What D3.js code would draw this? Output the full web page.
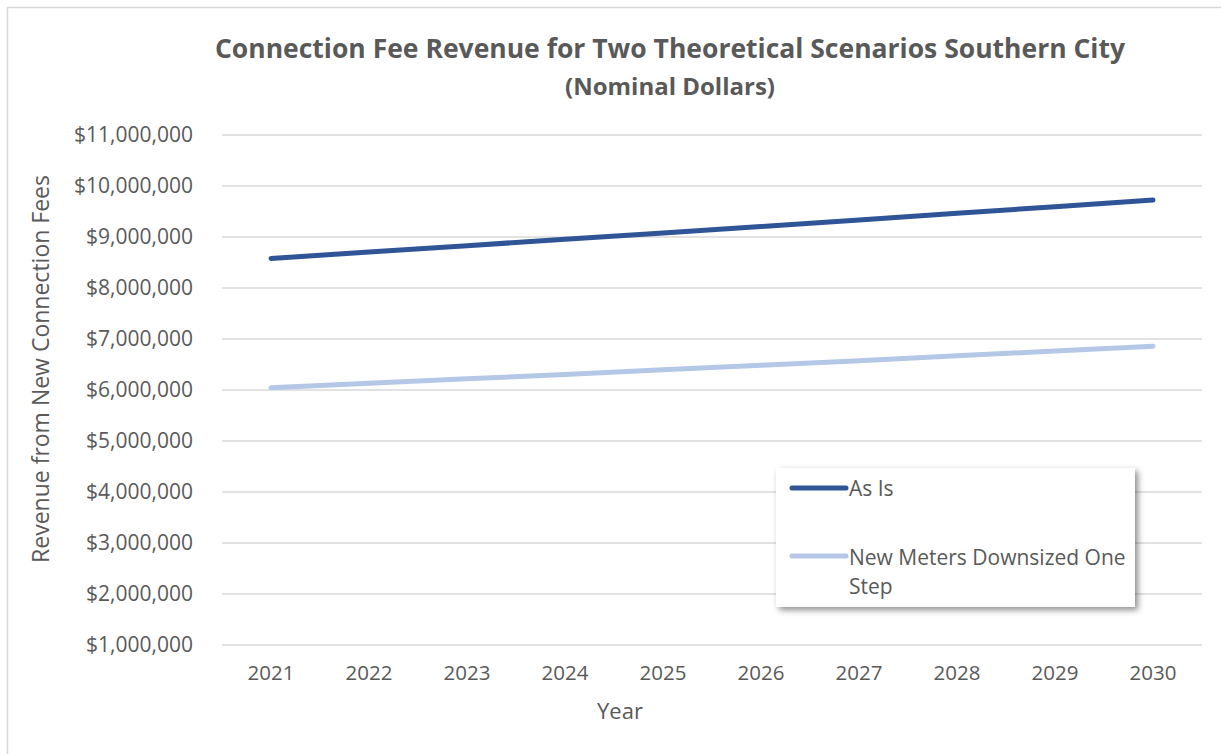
<!DOCTYPE html>
<html>
<head>
<meta charset="utf-8">
<script src="https://cdn.jsdelivr.net/npm/d3@7"></script>
<style>
  body { margin: 0; background: #fff; }
  svg { display: block; font-family: "Open Sans", sans-serif; }
</style>
</head>
<body>
<svg id="chart" width="1221" height="754"></svg>
<script>
// values
const years = ["2021", "2022", "2023", "2024", "2025", "2026", "2027", "2028", "2029", "2030"];
const asIs = [8580000, 8705000, 8830000, 8955000, 9080000, 9205000, 9335000, 9465000, 9595000, 9725000];
const downsized = [6045000, 6130000, 6220000, 6305000, 6395000, 6485000, 6575000, 6670000, 6765000, 6860000];
const yTicks = [1000000, 2000000, 3000000, 4000000, 5000000, 6000000, 7000000, 8000000, 9000000, 10000000, 11000000];
const seriesNames = ["As Is", "New Meters Downsized One Step"];
const seriesColors = ["#2F5597", "#B4C7E7"];

const svg = d3.select("#chart");
const textColor = "#595959";

// outer chart border (right/bottom fall off the picture)
svg.append("rect")
  .attr("x", 7.5).attr("y", 7.5)
  .attr("width", 1240).attr("height", 780)
  .attr("fill", "none")
  .attr("stroke", "#d9d9d9")
  .attr("stroke-width", 1.5);

const x = d3.scaleBand()
  .domain(years)
  .range([222, 1202]);

const y = d3.scaleLinear()
  .domain([1000000, 11000000])
  .range([645, 135]);

const fmt = d3.format("$,.0f");

// gridlines
svg.append("g")
  .selectAll("line")
  .data(yTicks)
  .enter()
  .append("line")
    .attr("x1", 222).attr("x2", 1202)
    .attr("y1", d => y(d)).attr("y2", d => y(d))
    .attr("stroke", "#d9d9d9")
    .attr("stroke-width", 1.5);

// y axis labels
const yAxis = svg.append("g")
  .attr("transform", "translate(193,0)")
  .call(d3.axisLeft(y).tickValues(yTicks).tickFormat(fmt).tickSize(0).tickPadding(0));
yAxis.select(".domain").remove();
yAxis.selectAll("text")
  .attr("fill", textColor)
  .style("font-size", "21px")
  .style("font-family", "'Open Sans', sans-serif");

// x axis labels
const xAxis = svg.append("g")
  .attr("transform", "translate(0,665)")
  .call(d3.axisBottom(x).tickSize(0).tickPadding(0));
xAxis.select(".domain").remove();
xAxis.selectAll("text")
  .attr("fill", textColor)
  .attr("dy", "0.71em")
  .style("font-size", "20.5px")
  .style("font-family", "'Open Sans', sans-serif");

// lines
const line = d3.line()
  .x((d, i) => x(years[i]) + x.bandwidth() / 2)
  .y(d => y(d));

[asIs, downsized].forEach(function(values, i) {
  svg.append("path")
    .datum(values)
    .attr("d", line)
    .attr("fill", "none")
    .attr("stroke", seriesColors[i])
    .attr("stroke-width", 5)
    .attr("stroke-linecap", "round")
    .attr("stroke-linejoin", "round");
});

// titles
const title = svg.append("text")
  .attr("x", 670)
  .attr("text-anchor", "middle")
  .attr("fill", textColor)
  .style("font-weight", "bold");
title.append("tspan").attr("x", 670).attr("y", 58)
  .style("font-size", "26.5px")
  .text("Connection Fee Revenue for Two Theoretical Scenarios Southern City");
title.append("tspan").attr("x", 670).attr("y", 95)
  .style("font-size", "24px")
  .text("(Nominal Dollars)");

svg.append("text")
  .attr("transform", "translate(49,369) rotate(-90)")
  .attr("text-anchor", "middle")
  .attr("fill", textColor)
  .style("font-size", "23px")
  .text("Revenue from New Connection Fees");

svg.append("text")
  .attr("x", 620).attr("y", 719)
  .attr("text-anchor", "middle")
  .attr("fill", textColor)
  .style("font-size", "22px")
  .text("Year");

// legend box with shadow
const defs = svg.append("defs");
const filter = defs.append("filter").attr("id", "shadow")
  .attr("x", "-10%").attr("y", "-10%").attr("width", "130%").attr("height", "130%");
filter.append("feDropShadow")
  .attr("dx", 3).attr("dy", 3).attr("stdDeviation", 3)
  .attr("flood-color", "#000").attr("flood-opacity", 0.45);

const legend = svg.append("g").attr("transform", "translate(776,468)");
legend.append("rect")
  .attr("width", 359).attr("height", 139)
  .attr("fill", "#fff")
  .attr("filter", "url(#shadow)");

const legendRows = [20, 88];
seriesNames.forEach(function(name, i) {
  legend.append("line")
    .attr("x1", 16).attr("x2", 70)
    .attr("y1", legendRows[i]).attr("y2", legendRows[i])
    .attr("stroke", seriesColors[i])
    .attr("stroke-width", 5)
    .attr("stroke-linecap", "round");
});
legend.append("text")
  .attr("x", 73).attr("y", 28)
  .attr("fill", textColor).style("font-size", "21px")
  .text("As Is");
const lt = legend.append("text")
  .attr("fill", textColor).style("font-size", "21px");
lt.append("tspan").attr("x", 73).attr("y", 97).text("New Meters Downsized One");
lt.append("tspan").attr("x", 73).attr("y", 126).text("Step");
</script>
</body>
</html>
